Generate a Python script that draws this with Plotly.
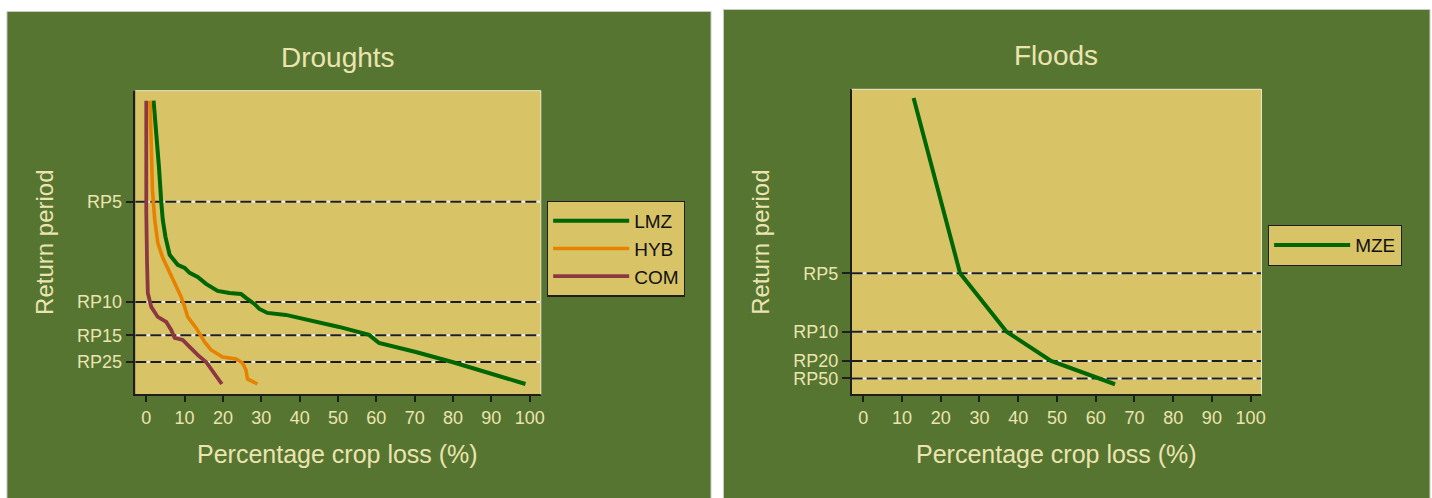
import plotly.graph_objects as go

# ---------------- data ----------------
# Droughts: exceedance probability (1/return period) vs percentage crop loss
lmz_loss = [1.9, 2.6, 3.3, 3.9, 4.3, 5.0, 6.1, 8.2, 10.0, 11.3, 13.4, 15.6, 18.6, 21.7,
            24.7, 26.0, 28.2, 29.5, 31.6, 36.4, 42.5, 50.3, 58.1, 60.7, 70.3, 79.8, 98.9]
lmz_prob = [0.301, 0.272, 0.235, 0.200, 0.182, 0.165, 0.147, 0.137, 0.134, 0.129, 0.125,
            0.118, 0.111, 0.109, 0.108, 0.104, 0.098, 0.093, 0.089, 0.087, 0.082, 0.075,
            0.067, 0.059, 0.050, 0.040, 0.018]

hyb_loss = [1.0, 1.3, 1.6, 2.2, 3.0, 4.3, 6.1, 7.4, 9.1, 10.0, 10.8, 13.0, 15.2, 16.9,
            19.9, 23.4, 25.1, 26.0, 26.4, 29.0]
hyb_prob = [0.301, 0.255, 0.212, 0.182, 0.159, 0.144, 0.130, 0.119, 0.105, 0.095, 0.085,
            0.074, 0.060, 0.052, 0.045, 0.043, 0.039, 0.032, 0.023, 0.018]

com_loss = [0.0, -0.1, 0.0, 0.2, 0.4, 1.3, 3.0, 5.2, 6.5, 7.4, 9.5, 11.3, 13.4, 15.6, 19.7]
com_prob = [0.301, 0.255, 0.189, 0.139, 0.109, 0.095, 0.085, 0.080, 0.072, 0.064, 0.062,
            0.055, 0.047, 0.040, 0.018]

# Floods
mze_loss = [13, 25, 37, 48.5, 65]
mze_rp = [2, 5, 10, 20, 100]

drought_rp_ticks = [5, 10, 15, 25]
flood_rp_ticks = [5, 10, 20, 50]
x_ticks = [0, 10, 20, 30, 40, 50, 60, 70, 80, 90, 100]

# ---------------- style ----------------
W, H = 1432, 498
PANEL = "rgb(86,117,48)"
PLOTBG = "rgb(216,195,103)"
CREAM = "rgb(236,228,176)"
DARK = "#1e1e1e"
FONT = "Liberation Sans, Arial, sans-serif"
C_LMZ = "rgb(0,102,0)"
C_HYB = "rgb(230,130,0)"
C_COM = "rgb(140,56,66)"


def px_x(v):
    return v / W


def px_y(v):
    return (H - v) / H


# plot areas in pixels
L_X0, L_X1, L_Y0, L_Y1 = 135.7, 542.3, 90.7, 394.3
R_X0, R_X1, R_Y0, R_Y1 = 854.0, 1265.0, 89.3, 394.3

fig = go.Figure()

fig.add_trace(go.Scatter(x=lmz_loss, y=lmz_prob, mode="lines", name="LMZ",
                         line=dict(color=C_LMZ, width=4), xaxis="x", yaxis="y",
                         legend="legend"))
fig.add_trace(go.Scatter(x=hyb_loss, y=hyb_prob, mode="lines", name="HYB",
                         line=dict(color=C_HYB, width=3.6), xaxis="x", yaxis="y",
                         legend="legend"))
fig.add_trace(go.Scatter(x=com_loss, y=com_prob, mode="lines", name="COM",
                         line=dict(color=C_COM, width=3.8), xaxis="x", yaxis="y",
                         legend="legend"))
fig.add_trace(go.Scatter(x=mze_loss, y=[1.0 / r for r in mze_rp], mode="lines", name="MZE",
                         line=dict(color=C_LMZ, width=4), xaxis="x2", yaxis="y2",
                         legend="legend2"))

shapes = []
# panel backgrounds
shapes.append(dict(type="rect", xref="paper", yref="paper", x0=px_x(7), x1=px_x(713),
                   y0=px_y(499), y1=px_y(11.5), fillcolor=PANEL,
                   line=dict(color="#c9cbc2", width=1), layer="below"))
shapes.append(dict(type="rect", xref="paper", yref="paper", x0=px_x(725.5), x1=px_x(1434),
                   y0=px_y(499), y1=px_y(9.5), fillcolor=PANEL,
                   line=dict(color="#c9cbc2", width=1), layer="below"))
# plot-area backgrounds (drawn above the panels)
for (x0, x1, y0, y1) in ((L_X0, L_X1, L_Y0, L_Y1), (R_X0, R_X1, R_Y0, R_Y1)):
    shapes.append(dict(type="rect", xref="paper", yref="paper", x0=px_x(x0), x1=px_x(x1),
                       y0=px_y(y1), y1=px_y(y0), fillcolor=PLOTBG,
                       line=dict(width=0), layer="below"))

# dashed return-period lines
for xa, ya, rps in (("x", "y", drought_rp_ticks), ("x2", "y2", flood_rp_ticks)):
    for rp in rps:
        shapes.append(dict(type="line", xref=xa + " domain", yref=ya, x0=0, x1=1,
                           y0=1.0 / rp, y1=1.0 / rp, layer="below",
                           line=dict(color="#eeeeee", width=2)))
        shapes.append(dict(type="line", xref=xa + " domain", yref=ya, x0=0, x1=1,
                           y0=1.0 / rp, y1=1.0 / rp, layer="below",
                           line=dict(color=DARK, width=2, dash="11px,4px")))
    # light top and right frame
    shapes.append(dict(type="line", xref=xa + " domain", yref=ya + " domain", x0=0, x1=1,
                       y0=1, y1=1, layer="above", line=dict(color="#efe9cf", width=1)))
    shapes.append(dict(type="line", xref=xa + " domain", yref=ya + " domain", x0=1, x1=1,
                       y0=0, y1=1, layer="above", line=dict(color="#efe9cf", width=1)))

annotations = [
    dict(text="Droughts", x=px_x(339.3), y=px_y(57.5), xref="paper", yref="paper",
         showarrow=False, xanchor="center", yanchor="middle",
         font=dict(family=FONT, size=28, color=CREAM)),
    dict(text="Floods", x=px_x(1059), y=px_y(56), xref="paper", yref="paper",
         showarrow=False, xanchor="center", yanchor="middle",
         font=dict(family=FONT, size=28, color=CREAM)),
    dict(text="Percentage crop loss (%)", x=px_x(338.5), y=px_y(453.5), xref="paper",
         yref="paper", showarrow=False, xanchor="center", yanchor="middle",
         font=dict(family=FONT, size=25, color=CREAM)),
    dict(text="Percentage crop loss (%)", x=px_x(1059), y=px_y(453.5), xref="paper",
         yref="paper", showarrow=False, xanchor="center", yanchor="middle",
         font=dict(family=FONT, size=25, color=CREAM)),
    dict(text="Return period", x=px_x(44), y=px_y(242), xref="paper", yref="paper",
         showarrow=False, xanchor="center", yanchor="middle", textangle=-90,
         font=dict(family=FONT, size=24, color=CREAM)),
    dict(text="Return period", x=px_x(762), y=px_y(242), xref="paper", yref="paper",
         showarrow=False, xanchor="center", yanchor="middle", textangle=-90,
         font=dict(family=FONT, size=24, color=CREAM)),
]

xaxis_common = dict(range=[-2.86, 102.9], tickvals=x_ticks, ticktext=[str(v) for v in x_ticks],
                    showgrid=False, zeroline=False, showline=True, linecolor=DARK,
                    linewidth=1.5, ticks="outside", ticklen=6, tickwidth=1.5,
                    tickcolor=DARK, tickfont=dict(family=FONT, size=18, color=CREAM),
                    fixedrange=True)
yaxis_common = dict(showgrid=False, zeroline=False, showline=True, linecolor=DARK,
                    linewidth=1.5, ticks="outside", ticklen=8, tickwidth=1.5,
                    tickcolor=DARK, tickfont=dict(family=FONT, size=18, color=CREAM),
                    fixedrange=True)

fig.update_layout(
    width=W, height=H,
    margin=dict(l=0, r=0, t=0, b=0),
    paper_bgcolor="white",
    plot_bgcolor="rgba(0,0,0,0)",
    font=dict(family=FONT, color=CREAM),
    showlegend=True,
    xaxis=dict(domain=[px_x(L_X0), px_x(L_X1)], anchor="y", **xaxis_common),
    yaxis=dict(domain=[px_y(L_Y1), px_y(L_Y0)], anchor="x", range=[0.0077, 0.311],
               tickvals=[1.0 / r for r in drought_rp_ticks],
               ticktext=["RP%d" % r for r in drought_rp_ticks], **yaxis_common),
    xaxis2=dict(domain=[px_x(R_X0), px_x(R_X1)], anchor="y2",
                **{**xaxis_common, "range": [-3.0, 102.8]}),
    yaxis2=dict(domain=[px_y(R_Y1), px_y(R_Y0)], anchor="x2", range=[-0.0072, 0.515],
                tickvals=[1.0 / r for r in flood_rp_ticks],
                ticktext=["RP%d" % r for r in flood_rp_ticks], **yaxis_common),
    legend=dict(x=px_x(548.5), y=px_y(200.7), xanchor="left", yanchor="top",
                bgcolor=PLOTBG, bordercolor=DARK, borderwidth=1.2,
                font=dict(family=FONT, size=19, color="#111111"), itemwidth=76,
                tracegroupgap=0),
    legend2=dict(x=px_x(1271.5), y=px_y(225), xanchor="left", yanchor="top",
                 bgcolor=PLOTBG, bordercolor=DARK, borderwidth=1.2,
                 font=dict(family=FONT, size=19, color="#111111"), itemwidth=76),
    shapes=shapes,
    annotations=annotations,
)

fig.write_html("out.html", config={"displayModeBar": False},
               post_script="document.body.style.margin='0';")
